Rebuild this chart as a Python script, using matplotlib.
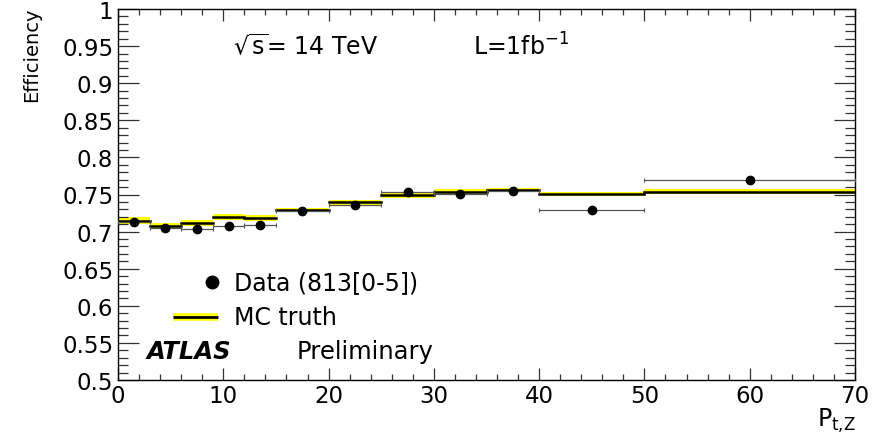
import numpy as np
import matplotlib
matplotlib.use("Agg")
import matplotlib.pyplot as plt
from matplotlib.lines import Line2D
from matplotlib.legend_handler import HandlerLine2D

plt.rcParams['font.family'] = ['DejaVu Sans']
plt.rcParams['mathtext.fontset'] = 'dejavusans'

# bin edges in P_t,Z
edges = [0, 3, 6, 9, 12, 15, 20, 25, 30, 35, 40, 50, 70]
# data efficiency per bin
data_eff = [0.7135, 0.7053, 0.704, 0.7075, 0.7085, 0.7275, 0.7365, 0.753, 0.7507, 0.7552, 0.7295, 0.770]
data_err = [0.005, 0.002, 0.002, 0.002, 0.002, 0.002, 0.002, 0.002, 0.002, 0.002, 0.002, 0.002]
# MC truth efficiency per bin
mc_eff = [0.7147, 0.7072, 0.711, 0.720, 0.7187, 0.729, 0.7395, 0.749, 0.754, 0.756, 0.7507, 0.754]
mc_err = [0.005, 0.004, 0.004, 0.004, 0.004, 0.003, 0.003, 0.004, 0.003, 0.003, 0.003, 0.003]

edges = np.array(edges, dtype=float)
centers = 0.5 * (edges[:-1] + edges[1:])
halfw = 0.5 * (edges[1:] - edges[:-1])
mc_eff = np.array(mc_eff)
mc_err = np.array(mc_err)


# legend marker sits toward the right end of the handle, like ROOT does
class HandlerRightMarker(HandlerLine2D):
    def create_artists(self, legend, orig_handle, xdescent, ydescent, width, height, fontsize, trans):
        arts = super().create_artists(legend, orig_handle, xdescent, ydescent, width, height, fontsize, trans)
        for a in arts:
            n = len(a.get_xdata())
            a.set_xdata(np.full(n, width * 0.87 - xdescent))
        return arts


fig = plt.figure(figsize=(8.84, 4.39), dpi=100)
ax = fig.add_axes([118 / 884, 1 - 381 / 439, 737 / 884, 371 / 439])

# MC truth: yellow band + black line per bin
for i in range(len(mc_eff)):
    ax.fill_between([edges[i], edges[i + 1]], mc_eff[i] - mc_err[i], mc_eff[i] + mc_err[i],
                    color='#ffff00', lw=0, zorder=1)
    ax.plot([edges[i], edges[i + 1]], [mc_eff[i], mc_eff[i]], color='black', lw=1.8, zorder=2)

# data points
ax.errorbar(centers, data_eff, xerr=halfw, yerr=data_err, fmt='o', color='black',
             ms=6, ecolor='#555555', elinewidth=0.9, capsize=1.5, capthick=0.8, zorder=3)

ax.set_xlim(0, 70)
ax.set_ylim(0.5, 1.0)
ax.set_xticks(np.arange(0, 71, 10))
ax.set_xticks(np.arange(0, 71, 2), minor=True)
ax.set_yticks(np.arange(0.5, 1.001, 0.05))
ax.set_yticks(np.arange(0.5, 1.001, 0.01), minor=True)
ax.set_xticklabels(['0', '10', '20', '30', '40', '50', '60', '70'])
ax.set_yticklabels(['0.5', '0.55', '0.6', '0.65', '0.7', '0.75', '0.8', '0.85', '0.9', '0.95', '1'])
ax.tick_params(which='both', direction='in', top=True, right=True, labelsize=16.5,
               color='#333333', width=0.9)
ax.tick_params(axis='y', which='major', length=15, pad=3.5)
ax.tick_params(axis='y', which='minor', length=7.5)
ax.tick_params(axis='x', which='major', length=8.5, pad=3)
ax.tick_params(axis='x', which='minor', length=4.3)
for s in ax.spines.values():
    s.set_linewidth(1.0)

fig.text(32 / 884, 1 - 7 / 439, 'Efficiency', rotation=90, ha='center', va='top', fontsize=14)
fig.text(856 / 884, 1 - 421 / 439, r'P$_{\mathrm{t{,}Z}}$', ha='right', va='center', fontsize=17)

ax.text((233 - 118) / 737, 1 - 37 / 371, r'$\sqrt{\mathrm{s}}$= 14 TeV',
        transform=ax.transAxes, ha='left', va='center', fontsize=17)
ax.text((473 - 118) / 737, 1 - 37 / 371, r'L=1fb$^{\mathrm{-1}}$',
        transform=ax.transAxes, ha='left', va='center', fontsize=17)
ax.text((147 - 118) / 737, 1 - 342 / 371, 'ATLAS', transform=ax.transAxes,
        ha='left', va='center', fontsize=17.5, fontweight='bold', style='italic')
ax.text((297 - 118) / 737, 1 - 342 / 371, 'Preliminary', transform=ax.transAxes,
        ha='left', va='center', fontsize=17.5)

h_data = Line2D([], [], ls='none', marker='o', color='black', ms=9)
h_mc = (Line2D([], [], color='#ffff00', lw=5.5, solid_capstyle='butt'),
        Line2D([], [], color='black', lw=2, solid_capstyle='butt'))
leg = ax.legend([h_data, h_mc], ['Data (813[0-5])', 'MC truth'], frameon=False,
                loc='upper left', bbox_to_anchor=((173 - 118) / 737, 1 - 261 / 371),
                fontsize=17, handlelength=1.9, handleheight=0.3, labelspacing=0.45,
                handletextpad=0.7, borderaxespad=0, borderpad=0, numpoints=1,
                handler_map={h_data: HandlerRightMarker()})

fig.savefig('out.png', dpi=100)
